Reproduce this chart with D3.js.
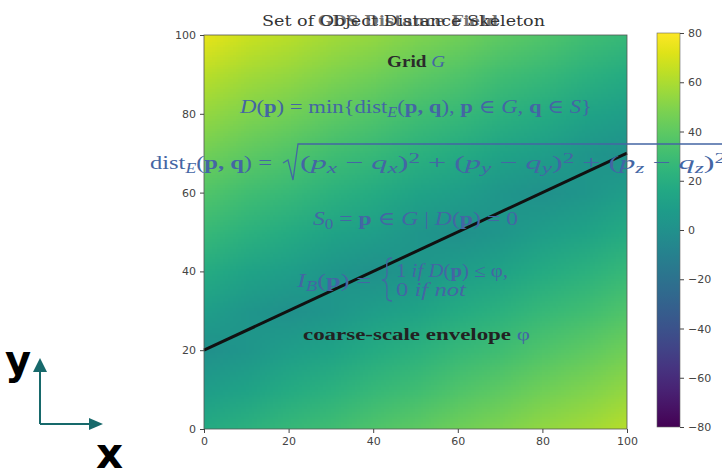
<!DOCTYPE html>
<html>
<head>
<meta charset="utf-8">
<script src="https://cdn.jsdelivr.net/npm/d3@7"></script>
<style>
  body { margin: 0; background: #fff; }
  svg { display: block; }
  .tick text { font-family: "DejaVu Sans", sans-serif; font-size: 11px; fill: #444; }
  .tick line, .domain { stroke: #444; }
  .math { font-family: "Liberation Serif", "DejaVu Serif", serif; fill: #4466a4; }
</style>
</head>
<body>
<div class="svg-container"></div>
<script>
// axis ticks
var xTicks = [0, 20, 40, 60, 80, 100],
    yTicks = [0, 20, 40, 60, 80, 100],
    cbTicks = [-80, -60, -40, -20, 0, 20, 40, 60, 80];

// sample points of the distance field
var gridX = [0, 10, 20, 30, 40, 50, 60, 70, 80, 90, 100];
var gridY = [100, 90, 80, 70, 60, 50, 40, 30, 20, 10, 0];
var distGrid = [
    [74, 67, 63, 58, 54, 49, 45, 40, 36, 31, 27],
    [63, 58, 54, 49, 45, 40, 36, 31, 27, 22, 18],
    [54, 49, 45, 40, 36, 31, 27, 22, 18, 13, 9],
    [45, 40, 36, 31, 27, 22, 18, 13, 9, 4, 0],
    [36, 31, 27, 22, 18, 13, 9, 4, 0, 4, 9],
    [27, 22, 18, 13, 9, 4, 0, 4, 9, 13, 18],
    [18, 13, 9, 4, 0, 4, 9, 13, 18, 22, 27],
    [9, 4, 0, 4, 9, 13, 18, 22, 27, 31, 36],
    [0, 4, 9, 13, 18, 22, 27, 31, 36, 40, 45],
    [9, 13, 18, 22, 27, 31, 36, 40, 45, 49, 54],
    [18, 22, 27, 31, 36, 40, 45, 49, 54, 58, 63]
];

// skeleton line S
var lineX = [0, 100],
    lineY = [20, 70];

var W = 722, H = 469;
var margin = {top: 35, left: 204},
    width = 627 - 204,
    height = 429 - 35;

var svg = d3.select(".svg-container").append("svg")
    .attr("width", W)
    .attr("height", H);

var xScale = d3.scaleLinear().domain([0, 100]).range([0, width]),
    yScale = d3.scaleLinear().domain([0, 100]).range([height, 0]),
    color = d3.scaleSequential(d3.interpolateViridis).domain([-80, 80]);

var g = svg.append("g")
    .attr("transform", "translate(" + margin.left + "," + margin.top + ")");

// heatmap: paint one pixel per sample and let the browser smooth it
var canvas = document.createElement("canvas");
canvas.width = gridX.length;
canvas.height = gridY.length;
var ctx = canvas.getContext("2d");
distGrid.forEach(function (row, j) {
    row.forEach(function (v, i) {
        ctx.fillStyle = color(v);
        ctx.fillRect(i, j, 1, 1);
    });
});

svg.append("defs").append("clipPath")
    .attr("id", "plotclip")
    .append("rect")
    .attr("width", width)
    .attr("height", height);

var half = (gridX[1] - gridX[0]) / 2;
g.append("g").attr("clip-path", "url(#plotclip)")
    .append("image")
    .attr("href", canvas.toDataURL())
    .attr("preserveAspectRatio", "none")
    .attr("x", xScale(gridX[0] - half))
    .attr("y", yScale(gridY[0] + half))
    .attr("width", xScale(gridX[gridX.length - 1] + half) - xScale(gridX[0] - half))
    .attr("height", yScale(gridY[gridY.length - 1] - half) - yScale(gridY[0] + half));

// skeleton line
var line = d3.line()
    .x(function (d) { return xScale(d[0]); })
    .y(function (d) { return yScale(d[1]); });

g.append("path")
    .attr("d", line(d3.zip(lineX, lineY)))
    .attr("fill", "none")
    .attr("stroke", "#111")
    .attr("stroke-width", 3);

// frame and axes
g.append("rect")
    .attr("width", width)
    .attr("height", height)
    .attr("fill", "none")
    .attr("stroke", "#555")
    .attr("stroke-width", 0.8);

g.append("g")
    .attr("transform", "translate(0," + height + ")")
    .call(d3.axisBottom(xScale).tickValues(xTicks).tickSize(4).tickPadding(4))
    .call(function (a) { a.select(".domain").remove(); });

g.append("g")
    .call(d3.axisLeft(yScale).tickValues(yTicks).tickSize(4).tickPadding(4))
    .call(function (a) { a.select(".domain").remove(); });

// colorbar
var cb = {x: 657, y: 33, w: 23, h: 394};
var cbScale = d3.scaleLinear().domain([-80, 80]).range([cb.h, 0]);

var grad = svg.select("defs").append("linearGradient")
    .attr("id", "cbgrad")
    .attr("x1", 0).attr("y1", 1).attr("x2", 0).attr("y2", 0);
d3.range(0, 1.0001, 0.05).forEach(function (t) {
    grad.append("stop")
        .attr("offset", t)
        .attr("stop-color", d3.interpolateViridis(t));
});

var cbg = svg.append("g").attr("transform", "translate(" + cb.x + "," + cb.y + ")");
cbg.append("rect")
    .attr("width", cb.w)
    .attr("height", cb.h)
    .attr("fill", "url(#cbgrad)")
    .attr("stroke", "#666")
    .attr("stroke-width", 0.6);
cbg.append("g")
    .attr("transform", "translate(" + cb.w + ",0)")
    .call(d3.axisRight(cbScale).tickValues(cbTicks).tickSize(4).tickPadding(4))
    .call(function (a) { a.select(".domain").remove(); });

// title (two overlapping titles, as in the original)
svg.append("text")
    .attr("x", 262).attr("y", 26)
    .attr("textLength", 283).attr("lengthAdjust", "spacingAndGlyphs")
    .style("font", "15px 'DejaVu Serif', serif")
    .style("fill", "#333")
    .text("Set of Object Distance Skeleton");
svg.append("text")
    .attr("x", 318).attr("y", 26)
    .attr("textLength", 180).attr("lengthAdjust", "spacingAndGlyphs")
    .style("font", "bold 15px 'DejaVu Serif', serif")
    .style("fill", "#3a3a3a")
    .style("opacity", 0.7)
    .text("GDS Distance Field");

// annotations
function addText(x, y, len, size, bold, fill, parts) {
    var t = svg.append("text")
        .attr("class", "math")
        .attr("x", x).attr("y", y)
        .style("font-size", size + "px")
        .style("font-weight", bold ? "bold" : "normal");
    if (len) t.attr("textLength", len).attr("lengthAdjust", "spacingAndGlyphs");
    if (fill) t.style("fill", fill);
    parts.forEach(function (p) {
        var s = t.append("tspan").text(p.t);
        if (p.i) s.style("font-style", "italic");
        if (p.b) s.style("font-weight", "bold");
        if (p.n) s.style("font-weight", "normal").style("fill", "#4466a4");
        if (p.sub) s.attr("baseline-shift", "-25%").style("font-size", (size * 0.72) + "px");
        if (p.sup) s.attr("baseline-shift", "40%").style("font-size", (size * 0.72) + "px");
    });
    return t;
}

addText(387, 67, 58, 16, true, "#2b2b2b", [
    {t: "Grid "}, {t: "G", i: 1, n: 1}
]);

addText(240, 113, 352, 19, false, null, [
    {t: "D", i: 1}, {t: "("}, {t: "p", b: 1}, {t: ") = min{dist"}, {t: "E", i: 1, sub: 1},
    {t: "("}, {t: "p, q", b: 1}, {t: "), "}, {t: "p", b: 1}, {t: "  ∈ "}, {t: "G", i: 1},
    {t: ", "}, {t: "q", b: 1}, {t: " ∈ "}, {t: "S", i: 1}, {t: "}"}
]);

addText(150, 169, 122, 19, false, null, [
    {t: "dist"}, {t: "E", i: 1, sub: 1}, {t: "("}, {t: "p, q", b: 1}, {t: ") = "}
]);
addText(300, 169, 426, 19, false, null, [
    {t: "("}, {t: "p", i: 1}, {t: "x", i: 1, sub: 1}, {t: "  −  "}, {t: "q", i: 1}, {t: "x", i: 1, sub: 1},
    {t: ")"}, {t: "2", sup: 1}, {t: " + ("}, {t: "p", i: 1}, {t: "y", i: 1, sub: 1}, {t: "  −  "},
    {t: "q", i: 1}, {t: "y", i: 1, sub: 1}, {t: ")"}, {t: "2", sup: 1}, {t: " + ("}, {t: "p", i: 1},
    {t: "z", i: 1, sub: 1}, {t: "  −  "}, {t: "q", i: 1}, {t: "z", i: 1, sub: 1}, {t: ")"}, {t: "2", sup: 1}
]);
// radical sign
svg.append("path")
    .attr("d", "M283,163 L288,160 L293,180 L298,144 L722,144")
    .attr("fill", "none")
    .attr("stroke", "#4466a4")
    .attr("stroke-width", 1.3);

addText(313, 225, 205, 19, false, null, [
    {t: "S", i: 1}, {t: "0", sub: 1}, {t: " = "}, {t: "p", b: 1}, {t: " ∈ "}, {t: "G", i: 1},
    {t: " | "}, {t: "D", i: 1}, {t: "("}, {t: "p", b: 1}, {t: ") = 0"}
]);

addText(297, 287, 74, 19, false, null, [
    {t: "I", i: 1}, {t: "B", i: 1, sub: 1}, {t: "("}, {t: "p", b: 1}, {t: ") ="}
]);
// brace
svg.append("path")
    .attr("d", "M392,258 C385,258 387,264 387,272 C387,278 386,280 382,280 C386,280 387,283 387,289 C387,296 385,301 392,301")
    .attr("fill", "none")
    .attr("stroke", "#4466a4")
    .attr("stroke-width", 1.3);
addText(396, 277, 112, 18, false, null, [
    {t: "1 "}, {t: "if D", i: 1}, {t: "("}, {t: "p", b: 1}, {t: ") ≤  φ,"}
]);
addText(396, 296, 70, 18, false, null, [
    {t: "0 "}, {t: "if not", i: 1}
]);

addText(303, 340, 227, 17, true, "#222", [
    {t: "coarse-scale envelope "}, {t: "φ", n: 1}
]);

// x / y direction indicator
var ind = svg.append("g");
ind.append("path")
    .attr("d", "M40,424 L40,370 M40,424 L92,424")
    .attr("fill", "none")
    .attr("stroke", "#17696b")
    .attr("stroke-width", 2);
ind.append("path").attr("d", "M33,372 L40,358 L47,372 Z").attr("fill", "#17696b");
ind.append("path").attr("d", "M89,418 L103,424 L89,430 Z").attr("fill", "#17696b");
ind.append("text")
    .attr("x", 5).attr("y", 374)
    .style("font", "bold 40px 'DejaVu Sans', sans-serif")
    .style("fill", "#000")
    .text("y");
ind.append("text")
    .attr("x", 96).attr("y", 468)
    .style("font", "bold 42px 'DejaVu Sans', sans-serif")
    .style("fill", "#000")
    .text("x");
</script>
</body>
</html>
